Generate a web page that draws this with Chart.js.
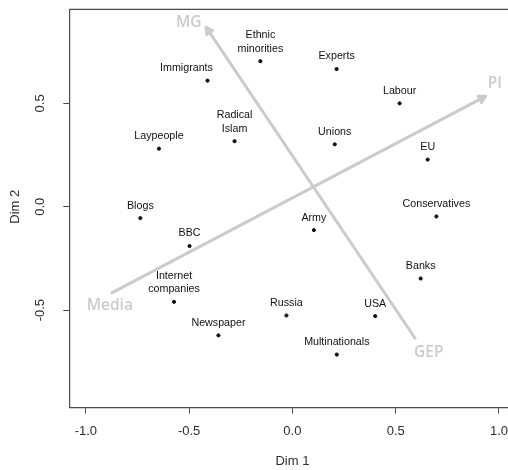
<!DOCTYPE html>
<html>
<head>
<meta charset="utf-8">
<script src="https://cdn.jsdelivr.net/npm/chart.js@4/dist/chart.umd.min.js"></script>
<style>
  html, body { margin: 0; padding: 0; background: #fff; overflow: hidden; }
</style>
</head>
<body>
<canvas id="mdsChart" width="520" height="470"></canvas>
<script>
// terms and their coordinates (Dim 1, Dim 2)
const termNames = ['Ethnic\nminorities', 'Experts', 'Immigrants', 'Labour', 'Radical\nIslam', 'Laypeople',
    'Unions', 'EU', 'Blogs', 'Conservatives', 'Army', 'BBC', 'Banks', 'Internet\ncompanies',
    'Russia', 'USA', 'Newspaper', 'Multinationals'];
const dim1 = [-0.155, 0.214, -0.411, 0.519, -0.280, -0.646, 0.205, 0.655, -0.736, 0.697, 0.104, -0.498,
    0.621, -0.573, -0.029, 0.401, -0.358, 0.215];
const dim2 = [0.704, 0.666, 0.610, 0.500, 0.317, 0.281, 0.302, 0.228, -0.055, -0.047, -0.113, -0.190,
    -0.347, -0.460, -0.526, -0.529, -0.622, -0.715];

// fitted property arrows (from -> to)
const arrowFromNames = ['Media', 'GEP'];
const arrowToNames = ['PI', 'MG'];
const arrowFromX = [-0.879, 0.597];
const arrowFromY = [-0.419, -0.641];
const arrowToX = [0.937, -0.419];
const arrowToY = [0.535, 0.870];

const xTicks = [-1.0, -0.5, 0.0, 0.5, 1.0];
const yTicks = [-0.5, 0.0, 0.5];
const xTitle = 'Dim 1';
const yTitle = 'Dim 2';

const txtFont = '10.7px "Liberation Sans", Arial, sans-serif';
const tickFont = '13px "Liberation Sans", Arial, sans-serif';
const arrowFont = '600 15.5px "Open Sans", sans-serif';
const arrowColor = '#cbcbcb';
// pixel nudges for the arrow-end words and the one off-centre term label
const endLabelShift = { MG: [-17, -4], PI: [9, -13], Media: [-1, 12], GEP: [13, 13] };
const termShift = { Immigrants: -21 };

const pointData = termNames.map((n, i) => ({ x: dim1[i], y: dim2[i] }));
const arrowSets = arrowToNames.map((n, i) => ({
    data: [{ x: arrowFromX[i], y: arrowFromY[i] }, { x: arrowToX[i], y: arrowToY[i] }],
    showLine: true,
    borderColor: arrowColor,
    borderWidth: 3,
    pointRadius: 0,
    fill: false,
}));

const labelPlugin = {
    id: 'labelPlugin',
    afterDatasetsDraw(chart) {
        const ctx = chart.ctx;
        const area = chart.chartArea;
        const xs = chart.scales.x, ys = chart.scales.y;
        ctx.save();

        // arrow heads + end words
        arrowToNames.forEach((name, i) => {
            const meta = chart.getDatasetMeta(i + 1);
            const p0 = meta.data[0], p1 = meta.data[1];
            const ang = Math.atan2(p1.y - p0.y, p1.x - p0.x);
            const len = 8, spread = 0.5;
            ctx.strokeStyle = arrowColor;
            ctx.fillStyle = arrowColor;
            ctx.lineWidth = 2.5;
            ctx.lineJoin = 'round';
            ctx.beginPath();
            ctx.moveTo(p1.x - len * Math.cos(ang - spread), p1.y - len * Math.sin(ang - spread));
            ctx.lineTo(p1.x, p1.y);
            ctx.lineTo(p1.x - len * Math.cos(ang + spread), p1.y - len * Math.sin(ang + spread));
            ctx.closePath();
            ctx.fill();
            ctx.stroke();

            ctx.font = arrowFont;
            ctx.textAlign = 'center';
            ctx.textBaseline = 'middle';
            const s1 = endLabelShift[name];
            ctx.fillText(name, p1.x + s1[0], p1.y + s1[1]);
            const fromName = arrowFromNames[i];
            const s0 = endLabelShift[fromName];
            ctx.fillText(fromName, p0.x + s0[0], p0.y + s0[1]);
        });

        // term labels above their dots
        const pmeta = chart.getDatasetMeta(0);
        ctx.font = txtFont;
        ctx.fillStyle = '#111';
        ctx.textAlign = 'center';
        ctx.textBaseline = 'middle';
        termNames.forEach((name, i) => {
            const pt = pmeta.data[i];
            const lines = name.split('\n');
            const dx = termShift[name] || 0;
            lines.forEach((ln, k) => {
                const y = pt.y - 12.5 - (lines.length - 1 - k) * 13.3;
                ctx.fillText(ln, pt.x + dx, y);
            });
        });

        // top (and right) frame lines
        ctx.strokeStyle = '#4a4a4a';
        ctx.lineWidth = 1.2;
        ctx.beginPath();
        ctx.moveTo(area.left, area.top);
        ctx.lineTo(area.right, area.top);
        ctx.lineTo(area.right, area.bottom);
        ctx.stroke();

        // tick labels and titles
        ctx.font = tickFont;
        ctx.fillStyle = '#2e2e2e';
        ctx.textAlign = 'center';
        ctx.textBaseline = 'middle';
        xTicks.forEach(v => ctx.fillText(v.toFixed(1), xs.getPixelForValue(v), 431.5));
        ctx.fillText(xTitle, xs.getPixelForValue(0), 461);
        yTicks.forEach(v => {
            ctx.save();
            ctx.translate(40, ys.getPixelForValue(v));
            ctx.rotate(-Math.PI / 2);
            ctx.fillText(v.toFixed(1), 0, 0);
            ctx.restore();
        });
        ctx.save();
        ctx.translate(15.5, ys.getPixelForValue(0));
        ctx.rotate(-Math.PI / 2);
        ctx.fillText(yTitle, 0, 0);
        ctx.restore();
        ctx.restore();
    }
};

const axisLook = {
    grid: { drawOnChartArea: false, drawTicks: true, tickLength: 6, color: '#4a4a4a', lineWidth: 1 },
    border: { display: true, color: '#4a4a4a', width: 1.2 },
    ticks: { display: false },
};

new Chart(document.getElementById('mdsChart').getContext('2d'), {
    type: 'scatter',
    data: {
        datasets: [{
            data: pointData,
            backgroundColor: '#111',
            borderColor: '#111',
            pointRadius: 1.6,
            pointHoverRadius: 1.6,
        }].concat(arrowSets)
    },
    options: {
        responsive: false,
        animation: false,
        events: [],
        layout: { padding: { left: 0, top: 9.3, right: 4.5, bottom: 0 } },
        plugins: { legend: { display: false }, tooltip: { enabled: false } },
        scales: {
            x: Object.assign({
                type: 'linear', min: -1.08, max: 1.08,
                afterBuildTicks: s => { s.ticks = xTicks.map(v => ({ value: v })); },
                afterFit: s => { s.height = 62.5; },
            }, axisLook),
            y: Object.assign({
                type: 'linear', min: -0.971, max: 0.955,
                afterBuildTicks: s => { s.ticks = yTicks.map(v => ({ value: v })); },
                afterFit: s => { s.width = 69.3; },
            }, axisLook),
        }
    },
    plugins: [labelPlugin]
});
</script>
</body>
</html>
